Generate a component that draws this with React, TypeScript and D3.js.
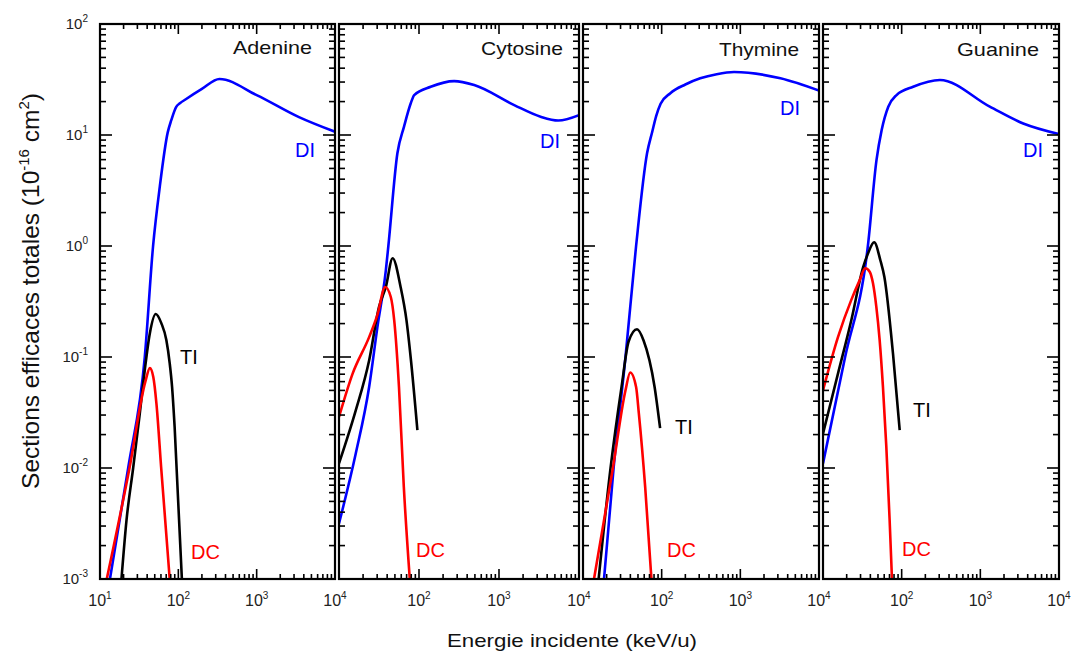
import React from 'react';
import * as d3 from 'd3';

type Pt = [number, number];

const panelNames = ['Adenine', 'Cytosine', 'Thymine', 'Guanine'];

const adenineDI: Pt[] = [[13.4, 0.001], [22.9, 0.01], [37.3, 0.1], [47.6, 1], [58, 3.43], [73.1, 10.5], [81.3, 13.6], [94.4, 18], [104.7, 19.3], [126, 21.1], [200, 26], [335, 32], [1000, 22.9], [3470, 14.5], [10000, 10.7]];
const adenineTI: Pt[] = [[18.8, 0.001], [21.8, 0.00339], [26.5, 0.01], [32.2, 0.0309], [37.3, 0.0764], [43.3, 0.164], [51.5, 0.244], [60.8, 0.201], [70.3, 0.142], [77.6, 0.0877], [83.2, 0.0537], [89.7, 0.0234], [111, 0.001]];
const adenineDC: Pt[] = [[12.2, 0.001], [23.8, 0.01], [38, 0.0603], [43.3, 0.0794], [47.9, 0.066], [52.5, 0.0383], [60.3, 0.0102], [77.6, 0.001]];

const cytosineDI: Pt[] = [[10, 0.00316], [16.2, 0.0135], [23.8, 0.0537], [30.2, 0.186], [38.5, 0.603], [41.4, 1], [53.7, 6.84], [65, 11.9], [78.9, 19.3], [87.1, 22.9], [140, 27.2], [275, 30.6], [490, 28.2], [1550, 18.6], [3310, 14.6], [5500, 13.5], [10000, 15.1]];
const cytosineTI: Pt[] = [[10, 0.011], [16.2, 0.033], [23.8, 0.093], [31.6, 0.282], [38.5, 0.427], [46.8, 0.776], [58.9, 0.427], [69.7, 0.215], [79.4, 0.093], [95.5, 0.0219]];
const cytosineDC: Pt[] = [[10, 0.0288], [14.8, 0.0708], [23.8, 0.151], [30.2, 0.24], [37.8, 0.427], [44.4, 0.347], [49, 0.214], [56.2, 0.0537], [64.6, 0.00676], [76.7, 0.001]];

const thymineDI: Pt[] = [[18.5, 0.001], [24.5, 0.01], [34.7, 0.1], [47.3, 1], [65.2, 6.84], [75.9, 10.7], [85.1, 14.8], [97, 19.1], [129, 23.8], [200, 28.5], [309, 32.4], [501, 35.3], [832, 36.9], [3236, 32.4], [10000, 25.1]];
const thymineTI: Pt[] = [[15.8, 0.001], [22.4, 0.01], [30.9, 0.0537], [38, 0.138], [48.6, 0.178], [58.9, 0.141], [81.3, 0.0537], [95.5, 0.0229]];
const thymineDC: Pt[] = [[13.8, 0.001], [24, 0.01], [34.7, 0.0501], [39.8, 0.0724], [47.3, 0.0537], [51.3, 0.0309], [61.7, 0.00676], [74.1, 0.001]];

const guanineDI: Pt[] = [[10, 0.011], [19.1, 0.1], [37.2, 1], [47.9, 5.96], [55.7, 11.1], [67.6, 18], [86.1, 22.9], [140, 27.2], [306, 31.3], [1318, 18], [3508, 12.7], [10000, 10.2]];
const guanineTI: Pt[] = [[10, 0.0204], [15.5, 0.0708], [22.9, 0.214], [32.4, 0.646], [37.2, 0.85], [44.7, 1.08], [53.7, 0.74], [60.3, 0.525], [77.6, 0.107], [94.4, 0.0219]];
const guanineDC: Pt[] = [[10, 0.05], [15.5, 0.151], [22.9, 0.327], [29.2, 0.49], [34.5, 0.63], [39.2, 0.587], [43.2, 0.461], [47.6, 0.284], [52.5, 0.142], [57.8, 0.054], [63.8, 0.0156], [70.3, 0.0034], [75.3, 0.001]];

const diSeries = [adenineDI, cytosineDI, thymineDI, guanineDI];
const tiSeries = [adenineTI, cytosineTI, thymineTI, guanineTI];
const dcSeries = [adenineDC, cytosineDC, thymineDC, guanineDC];

const yTickExps = [2, 1, 0, -1, -2, -3];
const xTickExpsFirst = [1, 2, 3, 4];
const xTickExpsOther = [2, 3, 4];

const xDomain: [number, number] = [10, 10000];
const yDomain: [number, number] = [0.001, 100];

// layout
const TOP = 24;
const BOTTOM = 579;
const panelX: [number, number][] = [[100, 335], [339, 579], [583, 819], [823, 1059]];
const nameLabelPos: [number, number, number][] = [[312, 54, 79], [563, 55, 82], [799, 56, 80], [1039, 56, 82]];
const diLabelPos: ([number, number] | null)[] = [[295, 157], [540, 148], [780, 115], [1023, 157]];
const tiLabelPos: ([number, number] | null)[] = [[180, 364], null, [675, 434], [913, 417]];
const dcLabelPos: ([number, number] | null)[] = [[191, 559], [416, 557], [667, 557], [902, 556]];

const FONT = '"Liberation Sans", Arial, Helvetica, sans-serif';

export default function App() {
  const y = d3.scaleLog().domain(yDomain).range([BOTTOM, TOP]);

  const yMinor: { v: number; major: boolean }[] = [];
  for (let d = -3; d <= 1; d++) {
    for (let k = 1; k <= 9; k++) yMinor.push({ v: k * Math.pow(10, d), major: k === 1 });
  }
  yMinor.push({ v: 100, major: true });

  const xMinor: { v: number; major: boolean }[] = [];
  for (let d = 1; d <= 3; d++) {
    for (let k = 1; k <= 9; k++) xMinor.push({ v: k * Math.pow(10, d), major: k === 1 });
  }
  xMinor.push({ v: 10000, major: true });

  return (
    <svg width={1071} height={653} style={{ display: 'block', position: 'absolute', left: 0, top: 0 }} fontFamily={FONT}>
      <rect x={0} y={0} width={1071} height={653} fill="#fff" />
      <defs>
        {panelX.map(([x0, x1], i) => (
          <clipPath id={`clip${i}`} key={i}>
            <rect x={x0} y={TOP} width={x1 - x0} height={BOTTOM - TOP} />
          </clipPath>
        ))}
      </defs>
      {panelX.map(([x0, x1], i) => {
        const x = d3.scaleLog().domain(xDomain).range([x0, x1]);
        const line = d3
          .line<Pt>()
          .x((d) => x(d[0]))
          .y((d) => y(d[1]))
          .curve(d3.curveMonotoneX);
        const xExps = i === 0 ? xTickExpsFirst : xTickExpsOther;
        const di = diLabelPos[i];
        const ti = tiLabelPos[i];
        const dc = dcLabelPos[i];
        const nm = nameLabelPos[i];
        return (
          <g key={i}>
            <g clipPath={`url(#clip${i})`} fill="none" strokeWidth={2.6} strokeLinejoin="round">
              <path d={line(diSeries[i]) || ''} stroke="#0000ff" />
              <path d={line(tiSeries[i]) || ''} stroke="#000" />
              <path d={line(dcSeries[i]) || ''} stroke="#ff0000" />
            </g>
            <g stroke="#000" strokeWidth={1.6}>
              {yMinor.map((t, j) => {
                const yy = y(t.v);
                const len = t.major ? 12 : 6;
                return (
                  <g key={j}>
                    <line x1={x0} x2={x0 + len} y1={yy} y2={yy} />
                    <line x1={x1} x2={x1 - len} y1={yy} y2={yy} />
                  </g>
                );
              })}
              {xMinor.map((t, j) => {
                const xx = x(t.v);
                const len = t.major ? 10 : 5;
                return (
                  <g key={j}>
                    <line x1={xx} x2={xx} y1={BOTTOM} y2={BOTTOM - len} />
                    <line x1={xx} x2={xx} y1={TOP} y2={TOP + len} />
                  </g>
                );
              })}
            </g>
            <rect x={x0} y={TOP} width={x1 - x0} height={BOTTOM - TOP} fill="none" stroke="#000" strokeWidth={2.2} />
            {xExps.map((e) => (
              <text key={e} x={x(Math.pow(10, e))} y={606} textAnchor="middle" fontSize={16} fill="#222">
                10<tspan dy={-7} fontSize={10}>{e}</tspan>
              </text>
            ))}
            <text x={nm[0]} y={nm[1]} textAnchor="end" fontSize={18.5} fill="#111" textLength={nm[2]} lengthAdjust="spacingAndGlyphs">
              {panelNames[i]}
            </text>
            {di && (
              <text x={di[0]} y={di[1]} fontSize={20} fill="#0000ff">DI</text>
            )}
            {ti && (
              <text x={ti[0]} y={ti[1]} fontSize={20} fill="#000">TI</text>
            )}
            {dc && (
              <text x={dc[0]} y={dc[1]} fontSize={20} fill="#ff0000">DC</text>
            )}
          </g>
        );
      })}
      {yTickExps.map((e) => (
        <text key={e} x={88} y={y(Math.pow(10, e)) + 5} textAnchor="end" fontSize={15} fill="#222">
          10<tspan dy={-7} fontSize={10}>{e}</tspan>
        </text>
      ))}
      <text x={572} y={647} textAnchor="middle" fontSize={19} fill="#111" textLength={250} lengthAdjust="spacingAndGlyphs">
        Energie incidente (keV/u)
      </text>
      <text transform="translate(39,291) rotate(-90)" textAnchor="middle" fontSize={24.5} fill="#111">
        Sections efficaces totales (10<tspan dy={-10} fontSize={15}>-16</tspan>
        <tspan dy={10}> cm</tspan>
        <tspan dy={-10} fontSize={15}>2</tspan>
        <tspan dy={10}>)</tspan>
      </text>
    </svg>
  );
}
